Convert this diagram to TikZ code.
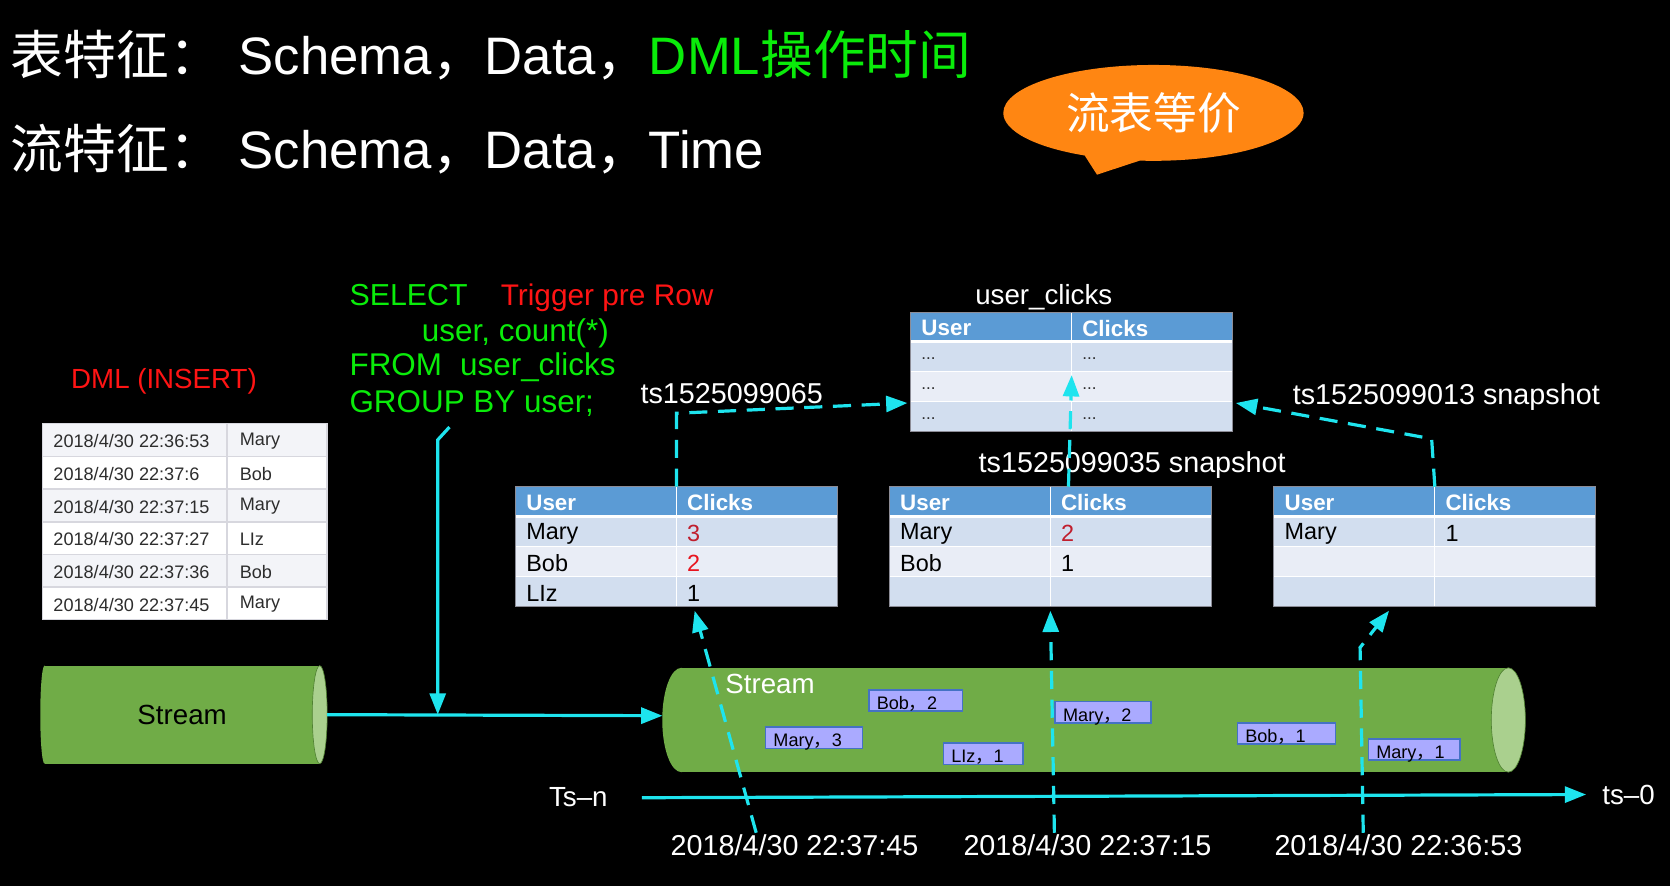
\documentclass[tikz,border=0pt]{standalone}
\usepackage{fontspec}
\setmainfont{Liberation Sans}
\newfontfamily\cjk{Noto Sans CJK SC}
\usetikzlibrary{arrows.meta,shapes.callouts,calc}

\definecolor{cyanl}{RGB}{30,228,238}
\definecolor{sqlgreen}{RGB}{10,236,10}
\definecolor{redt}{RGB}{255,20,20}
\definecolor{bubble}{RGB}{255,134,18}
\definecolor{sgreen}{RGB}{112,172,71}
\definecolor{scap}{RGB}{170,208,142}
\definecolor{sedge}{RGB}{80,130,50}
\definecolor{hblue}{RGB}{91,155,213}
\definecolor{rdark}{RGB}{210,222,239}
\definecolor{rlight}{RGB}{233,237,246}
\definecolor{tborder}{RGB}{140,140,150}
\definecolor{evfill}{RGB}{170,170,255}
\definecolor{evedge}{RGB}{68,114,196}
\definecolor{lgray}{RGB}{243,244,248}
\definecolor{lline}{RGB}{215,215,222}
\definecolor{ltext}{RGB}{45,45,45}
\definecolor{numa}{RGB}{192,30,45}
\definecolor{numb}{RGB}{232,20,30}

\newcommand\fs[1]{\fontsize{#1}{#1}\selectfont}

\tikzset{
  txt/.style={inner sep=0pt, text=white},
  cyanarrow/.style={draw=cyanl, line width=3pt, -{Triangle[length=20pt,width=15pt]}},
  cyandash/.style={cyanarrow, dash pattern=on 17pt off 10pt},
  evbox/.style={draw=evedge, fill=evfill, line width=1.5pt, minimum height=20pt, inner sep=0pt, anchor=north west},
  evtxt/.style={inner sep=0pt, anchor=base west, text=black, font=\fs{17}},
  hdr/.style={inner sep=0pt, anchor=west, text=white, font=\bfseries\fs{21}},
  cell/.style={inner sep=0pt, anchor=west, text=black, font=\fs{22}},
  lcell/.style={inner sep=0pt, anchor=west, text=ltext, font=\fs{17}},
  sqltxt/.style={txt, anchor=base west, font=\fs{29.5}, text=sqlgreen},
}

% click table: #1 name, #2 x, #3 y, #4..#9 cells
\newcommand\clicktab[9]{%
  \node[minimum width=302pt, minimum height=112pt, inner sep=0pt, anchor=north west, fill=rdark] (#1) at (#2,#3) {};
  \fill[hblue] (#2,#3) rectangle ++(302,28);
  \fill[rlight] (#2,#3+56) rectangle ++(302,28);
  \draw[white, line width=3pt] (#2,#3+28) -- ++(302,0);
  \draw[white, line width=1.2pt] (#2,#3+56) -- ++(302,0) (#2,#3+84) -- ++(302,0);
  \draw[white, line width=1.2pt] (#2+151,#3) -- ++(0,112);
  \draw[tborder, line width=0.8pt] (#2,#3) rectangle ++(302,112);
  \node[hdr] (#1h1) at (#2+10,#3+15) {User};
  \node[hdr] (#1h2) at (#2+161,#3+15) {Clicks};
  \node[cell] (#1a1) at (#2+10,#3+44) {#4};
  \node[cell] (#1b1) at (#2+161,#3+44) {#5};
  \node[cell] (#1a2) at (#2+10,#3+72) {#6};
  \node[cell] (#1b2) at (#2+161,#3+72) {#7};
  \node[cell] (#1a3) at (#2+10,#3+100) {#8};
  \node[cell] (#1b3) at (#2+161,#3+100) {#9};
}

% left table row: #1 index, #2 date, #3 name
\newcommand\lrow[3]{%
  \node[lcell] (L#1a) at (50,398+30.67*#1+16.3) {#2};
  \node[lcell] (L#1b) at (225,398+30.67*#1+16.3) {#3};
}

\begin{document}
\begin{tikzpicture}[x=1pt,y=-1pt]
\useasboundingbox[fill=black] (0,0) rectangle (1568,832);

% ---------- titles ----------
\node[txt, anchor=base west, font=\fs{49.5}] (t1) at (10,70)
  {{\cjk 表特征：}\hspace{16pt}Schema{\cjk ，}Data{\cjk ，}\textcolor{sqlgreen}{DML{\cjk 操作时间}}};
\node[txt, anchor=base west, font=\fs{49.5}] (t2) at (10,158)
  {{\cjk 流特征：}\hspace{16pt}Schema{\cjk ，}Data{\cjk ，}Time};

% ---------- bubble ----------
\node[ellipse callout, fill=bubble, minimum width=282pt, minimum height=90pt,
      callout absolute pointer={(1030,164)}, callout pointer arc=22,
      text=white, font={\cjk\fs{41}}] (bub) at (1083,106) {流表等价};

% ---------- SQL ----------
\node[sqltxt, font=\fs{28.5}] (q1t) at (328,287) {SELECT};
\node[txt, anchor=base west, font=\fs{28}, text=redt] (trig) at (470,287) {Trigger pre Row};
\node[sqltxt] (q2t) at (396,321) {user, count(*)};
\node[sqltxt] (q3t) at (328,353) {FROM\hspace{17pt}user\_clicks};
\node[sqltxt] (q4t) at (328,387) {GROUP BY user;};

% ---------- DML table ----------
\node[txt, font=\fs{26}, text=redt] (dml) at (154,358) {DML (INSERT)};
\fill[white] (40,398) rectangle (307,582);
\foreach \i in {0,2,4} \fill[lgray] (40,398+30.67*\i) rectangle (307,398+30.67*\i+30.67);
\foreach \i in {1,...,5} \draw[lline, line width=1.5pt] (40,398+30.67*\i) -- (307,398+30.67*\i);
\draw[lline, line width=1.5pt] (213,398) -- (213,582);
\draw[lline, line width=1pt] (40,398) rectangle (307,582);
\lrow{0}{2018/4/30 22:36:53}{Mary}
\lrow{1}{2018/4/30 22:37:6}{Bob}
\lrow{2}{2018/4/30 22:37:15}{Mary}
\lrow{3}{2018/4/30 22:37:27}{LIz}
\lrow{4}{2018/4/30 22:37:36}{Bob}
\lrow{5}{2018/4/30 22:37:45}{Mary}

% ---------- tables ----------
\node[txt, font=\fs{26}] (uctitle) at (980,279) {user\_clicks};
\clicktab{top}{855}{293}{\textcolor{ltext}{\fs{16}...}}{\textcolor{ltext}{\fs{16}...}}{\textcolor{ltext}{\fs{16}...}}{\textcolor{ltext}{\fs{16}...}}{\textcolor{ltext}{\fs{16}...}}{\textcolor{ltext}{\fs{16}...}}
\clicktab{tA}{484}{457}{Mary}{\textcolor{numa}{3}}{Bob}{\textcolor{numb}{2}}{LIz}{1}
\clicktab{tB}{835}{457}{Mary}{\textcolor{numa}{2}}{Bob}{1}{}{}
\clicktab{tC}{1196}{457}{Mary}{1}{}{}{}{}

\node[txt, font=\fs{27}] (lab65) at (687,370) {ts1525099065};
\node[txt, font=\fs{27}] (lab35) at (1063,437) {ts1525099035 snapshot};
\node[txt, font=\fs{27}] (lab13) at (1358,373) {ts1525099013 snapshot};

% ---------- streams ----------
\node[fill=sgreen, minimum width=258pt, minimum height=92pt, inner sep=0pt, font=\fs{26}, text=black] (s1) at (171,671) {Stream};
\fill[sgreen] (s1.west) ellipse [x radius=4pt, y radius=46pt];
\filldraw[fill=scap, draw=sedge, line width=0.6pt] (s1.east) ellipse [x radius=7pt, y radius=46pt];

\node[fill=sgreen, minimum width=776pt, minimum height=98pt, inner sep=0pt] (s2) at (1028,676) {};
\fill[sgreen] (s2.west) ellipse [x radius=18pt, y radius=49pt];
\filldraw[fill=scap, draw=sedge, line width=0.6pt] (s2.east) ellipse [x radius=16pt, y radius=49pt];
\node[txt, font=\fs{26}] (s2t) at (723,642) {Stream};

% events
\node[evbox, minimum width=88pt] (e1) at (815,647) {};
\node[evtxt] (e1t) at (823,666) {Bob{\cjk ，}2};
\node[evbox, minimum width=91pt] (e2) at (718,682) {};
\node[evtxt] (e2t) at (726,701) {Mary{\cjk ，}3};
\node[evbox, minimum width=75pt] (e3) at (885,697) {};
\node[evtxt] (e3t) at (893,716) {LIz{\cjk ，}1};
\node[evbox, minimum width=90pt] (e4) at (990,658) {};
\node[evtxt] (e4t) at (998,677) {Mary{\cjk ，}2};
\node[evbox, minimum width=92pt] (e5) at (1161,678) {};
\node[evtxt] (e5t) at (1169,697) {Bob{\cjk ，}1};
\node[evbox, minimum width=86pt] (e6) at (1284,693) {};
\node[evtxt] (e6t) at (1292,712) {Mary{\cjk ，}1};

% ---------- axis ----------
\node[txt, font=\fs{26}] (tsn) at (543,748) {Ts–n};
\node[txt, font=\fs{26}] (ts0) at (1529,746) {ts–0};
\draw[cyanarrow] ($(tsn.east)+(32,1)$) -- ($(ts0.west)+(-15,0)$);

\node[txt, font=\fs{27}] (d1) at (746,794) {2018/4/30 22:37:45};
\node[txt, font=\fs{27}] (d2) at (1021,794) {2018/4/30 22:37:15};
\node[txt, font=\fs{27}] (d3) at (1313,794) {2018/4/30 22:36:53};

% ---------- solid arrows ----------
\coordinate (s2in) at (622,672);
\draw[cyanarrow] ($(s1.east)+(7,0)$) -- (s2in);
\coordinate (qa) at (422,401);
\coordinate (qb) at (411,413);
\coordinate (qc) at (411,671);
\draw[cyanarrow] (qa) -- (qb) -- (qc);

% ---------- dashed arrows ----------
\draw[cyandash] (tA.north) -- ++(0,-69) -- ($(top.south west)+(-3,-27)$);
\draw[cyandash] ($(tB.north)+(17,0)$) -- ($(top.center)+(0,3)$);
\draw[cyandash] (tC.north) -- ++(-3,-45) -- ($(top.south east)+(3,-27)$);

\draw[cyandash] ($(d1.north)+(-36,-2)$) -- ($(tA.south)+(17,4)$);
\draw[cyandash] ($(d2.north)+(-31,-2)$) -- ($(tB.south)+(0,4)$);
\coordinate (k3) at (1277,608);
\draw[cyandash] ($(d3.north)+(-33,-2)$) -- (k3) -- ($(tC.south)+(-43,4)$);
\end{tikzpicture}
\end{document}
